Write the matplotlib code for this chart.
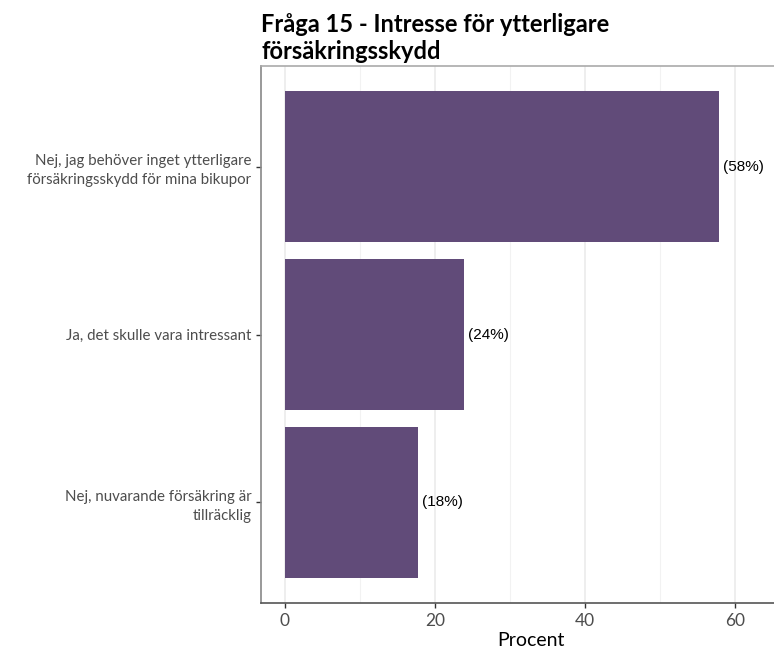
import matplotlib
matplotlib.use("Agg")
import matplotlib.pyplot as plt

categories = ["Nej, jag behöver inget ytterligare\nförsäkringsskydd för mina bikupor",
              "Ja, det skulle vara intressant",
              "Nej, nuvarande försäkring är\ntillräcklig"]
values = [57.9, 23.9, 17.8]
labels = ["(58%)", "(24%)", "(18%)"]
xticks = [0, 20, 40, 60]
minor_ticks = [10, 30, 50]

plt.rcParams['font.family'] = ['Lato', 'DejaVu Sans']

fig = plt.figure(figsize=(7.74, 6.5), dpi=100)
ax = fig.add_axes([261/774, 1-603/650, (800-261)/774, (603-66)/650])

ypos = list(range(len(categories)))
ax.barh(ypos, values, height=0.9, color="#614B79", zorder=3)
for y, v, l in zip(ypos, values, labels):
    ax.text(v + 0.5, y, l, va="center", ha="left", fontsize=11,
            family=["Liberation Sans", "DejaVu Sans"], color="black", zorder=4)

ax.set_ylim(len(categories) - 1 + 0.6, -0.6)
ax.set_xlim(-3.2, 68.7)
ax.set_yticks(ypos)
ax.set_yticklabels(categories, fontsize=10.8, color="#4D4D4D", linespacing=1.45)
ax.set_xticks(xticks)
ax.set_xticklabels([str(t) for t in xticks], fontsize=12.5, color="#4D4D4D")
ax.set_xticks(minor_ticks, minor=True)
ax.tick_params(axis="x", which="minor", length=0)
ax.tick_params(axis="both", which="major", length=3.5, color="#333333", width=1)
ax.grid(axis="x", which="major", color="#EBEBEB", linewidth=1.2, zorder=0)
ax.grid(axis="x", which="minor", color="#F2F2F2", linewidth=0.8, zorder=0)
ax.grid(axis="y", visible=False)

ax.spines["right"].set_visible(False)
ax.spines["top"].set_color("#AAAAAA")
ax.spines["left"].set_color("#888888")
ax.spines["bottom"].set_color("#555555")
for s in ax.spines.values():
    s.set_linewidth(1.2)

ax.set_xlabel("Procent", fontsize=14, color="black", labelpad=2)

fig.text(261/774, 1-13/650, "Fråga 15 - Intresse för ytterligare\nförsäkringsskydd",
         ha="left", va="top", fontsize=17, fontweight="bold", color="black",
         linespacing=1.2)

fig.savefig("out.png", dpi=100)
